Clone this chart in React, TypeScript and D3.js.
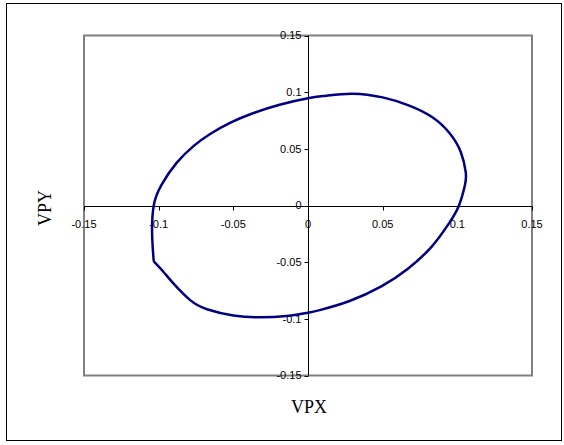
import React from "react";
import * as d3 from "d3";

// VPX / VPY trajectory samples (closed loop, starting and ending at the corner)
const vpx = [
  -0.1033, -0.097, -0.09, -0.0789, -0.0677, -0.05, -0.0322, -0.0144, 0, 0.0078,
  0.0274, 0.0491, 0.0669, 0.083, 0.0945, 0.1011, 0.1051, 0.1056, 0.1023, 0.095,
  0.0833, 0.0678, 0.05, 0.03, 0.0123, 0, -0.019, -0.0369, -0.0519, -0.0658,
  -0.0763, -0.088, -0.0982, -0.1033, -0.1044, -0.1033,
];
const vpy = [
  -0.0493, -0.0582, -0.069, -0.0835, -0.0915, -0.097, -0.0987, -0.0975, -0.0946, -0.0923,
  -0.0845, -0.0714, -0.0558, -0.036, -0.0156, 0, 0.018, 0.0297, 0.0472, 0.0636,
  0.0779, 0.0882, 0.0954, 0.0987, 0.0969, 0.0946, 0.0889, 0.0814, 0.0731, 0.0629,
  0.0528, 0.0376, 0.0179, 0, -0.0244, -0.0493,
];

const xTicks = [-0.15, -0.1, -0.05, 0, 0.05, 0.1, 0.15];
const yTicks = [-0.15, -0.1, -0.05, 0, 0.05, 0.1, 0.15];
const xTitle = "VPX";
const yTitle = "VPY";

const W = 564;
const H = 445;
const plot = { left: 84, right: 532, top: 35.5, bottom: 375.5 };

export default function App() {
  const x = d3.scaleLinear().domain([-0.15, 0.15]).range([plot.left, plot.right]);
  const y = d3.scaleLinear().domain([-0.15, 0.15]).range([plot.bottom, plot.top]);
  const pts: [number, number][] = vpx.map((v, i) => [v, vpy[i]]);
  const line = d3
    .line<[number, number]>()
    .x((d) => x(d[0]))
    .y((d) => y(d[1]))
    .curve(d3.curveNatural);

  const x0 = Math.round(x(0)) + 0.5;
  const y0 = Math.round(y(0)) + 0.5;
  const fmt = (v: number) => (v === 0 ? "0" : String(v));
  const tickFont = "Liberation Sans, Arial, sans-serif";

  return (
    <svg
      width={W}
      height={H}
      style={{ position: "absolute", left: 0, top: 0, background: "#fff" }}
    >
      <rect x={6.5} y={3.5} width={555} height={437} fill="#fff" stroke="#000" strokeWidth={1} />
      <rect
        x={plot.left}
        y={plot.top}
        width={plot.right - plot.left}
        height={plot.bottom - plot.top}
        fill="none"
        stroke="#808080"
        strokeWidth={2}
      />
      {/* horizontal axis */}
      <line x1={plot.left} x2={plot.right} y1={y0} y2={y0} stroke="#000" strokeWidth={1} />
      {xTicks.map((t) => (
        <g key={"x" + t}>
          <line x1={Math.round(x(t)) + 0.5} x2={Math.round(x(t)) + 0.5} y1={y0} y2={y0 + 4} stroke="#000" />
          <text
            x={x(t)}
            y={y0 + 21}
            textAnchor="middle"
            fontFamily={tickFont}
            fontSize={11}
            fill="#000"
          >
            {fmt(t)}
          </text>
        </g>
      ))}
      {/* vertical axis */}
      <line x1={x0} x2={x0} y1={plot.top} y2={plot.bottom} stroke="#000" strokeWidth={1} />
      {yTicks.map((t) => (
        <g key={"y" + t}>
          <line x1={x0 - 4} x2={x0} y1={Math.round(y(t)) + 0.5} y2={Math.round(y(t)) + 0.5} stroke="#000" />
          <text
            x={x0 - 7}
            y={y(t)}
            dy="0.35em"
            textAnchor="end"
            fontFamily={tickFont}
            fontSize={11}
            fill="#000"
          >
            {fmt(t)}
          </text>
        </g>
      ))}
      <path d={line(pts) ?? ""} fill="none" stroke="#000080" strokeWidth={2.5} strokeLinejoin="round" />
      <text
        x={309}
        y={413}
        textAnchor="middle"
        fontFamily="Liberation Serif, Times New Roman, serif"
        fontSize={18}
        fill="#000"
      >
        {xTitle}
      </text>
      <text
        transform={`translate(51, 208) rotate(-90)`}
        textAnchor="middle"
        fontFamily="Liberation Serif, Times New Roman, serif"
        fontSize={18}
        fill="#000"
      >
        {yTitle}
      </text>
    </svg>
  );
}
